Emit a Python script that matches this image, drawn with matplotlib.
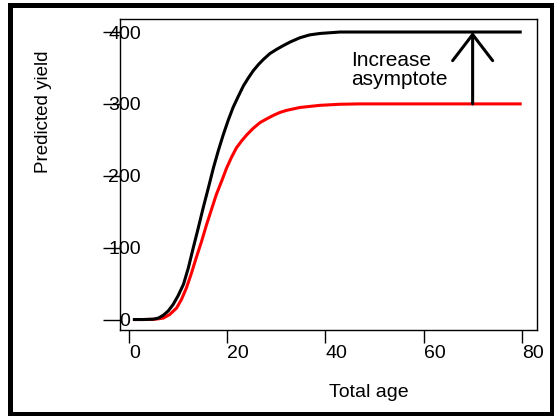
import numpy as np
import matplotlib
matplotlib.use('Agg')
import matplotlib.pyplot as plt
from matplotlib.patches import Rectangle

plt.rcParams['font.family'] = ['Liberation Sans', 'DejaVu Sans']

# Values (age, predicted yield).
black_age = [0.8, 3.0, 5.0, 6.0, 7.0, 8.0, 9.0, 10.0, 11.1, 12.1, 13.1, 14.1, 15.1,
             16.2, 17.2, 18.2, 19.2, 20.2, 21.2, 22.3, 23.3, 24.3, 25.3, 26.4, 27.4,
             28.7, 30.1, 31.4, 32.8, 34.8, 36.8, 38.9, 43.0, 47.0, 55.0, 65.0, 80.0]
black_yield = [0, 0, 0.5, 2, 6, 12, 21, 33, 49, 72, 100, 127, 155,
               184, 211, 235, 257, 277, 295, 311, 325, 336, 346, 355, 362,
               370, 376, 381, 386, 392, 396, 398, 400, 400, 400, 400, 400]

red_age = [0.8, 3.0, 5.0, 6.0, 7.0, 8.3, 9.7, 10.7, 11.7, 12.7, 13.7, 14.8, 15.8,
           16.8, 17.8, 18.9, 19.9, 20.9, 21.9, 23.0, 24.0, 25.3, 26.7, 28.0, 29.4,
           30.7, 32.1, 34.8, 38.9, 43.0, 47.0, 55.0, 65.0, 80.0]
red_yield = [0, 0, 0.3, 1, 2, 7, 16, 28, 44, 64, 86, 109, 132,
             153, 174, 193, 211, 226, 239, 249, 257, 266, 274, 279, 284,
             288, 291, 295, 298, 299.5, 300, 300, 300, 300]

x_ticks = [0, 20, 40, 60, 80]
y_ticks = [0, 100, 200, 300, 400]

arrow_age = 70
arrow_from = 300
arrow_to = 400

fig = plt.figure(figsize=(5.54, 4.16), dpi=100)
ax = fig.add_axes([0.2166, 0.2067, 0.7527, 0.7476])

ax.plot(red_age, red_yield, color='red', lw=2.2, solid_capstyle='butt',
        solid_joinstyle='round')
ax.plot(black_age, black_yield, color='black', lw=2.2, solid_capstyle='butt',
        solid_joinstyle='round')

ax.annotate('', xy=(arrow_age, arrow_to), xytext=(arrow_age, arrow_from),
            arrowprops=dict(arrowstyle='->,head_length=0.94,head_width=0.72',
                            mutation_scale=20, lw=2.2, color='black',
                            shrinkA=0, shrinkB=0))
ax.text(45.3, 347, 'Increase\nasymptote', fontsize=15, ha='left', va='center',
        linespacing=1.0)

ax.set_xlim(-1.83, 83.11)
ax.set_ylim(-14.6, 418.1)
ax.set_xticks(x_ticks)
ax.set_yticks(y_ticks)

for s in ax.spines.values():
    s.set_linewidth(1.0)

ax.tick_params(axis='y', length=12.2, width=1, pad=-15.5, labelsize=14)
ax.tick_params(axis='x', length=9, width=1, pad=2, labelsize=14)
for lbl in ax.get_yticklabels():
    lbl.set_horizontalalignment('center')
for lbl in ax.get_xticklabels():
    lbl.set_horizontalalignment('left')

ax.set_xlabel('Total age', fontsize=14, ha='left', va='baseline')
ax.xaxis.set_label_coords(0.502, -0.2145)
fig.text(44 / 554, 1 - 112 / 416, 'Predicted yield', fontsize=13.5,
         rotation=90, ha='center', va='center')

# Outer frame
fig.patches.append(Rectangle((0.018, 0.0048), 0.9784, 0.9832, transform=fig.transFigure,
                             fill=False, lw=3.6, ec='black'))

fig.savefig('out.png', dpi=100)
